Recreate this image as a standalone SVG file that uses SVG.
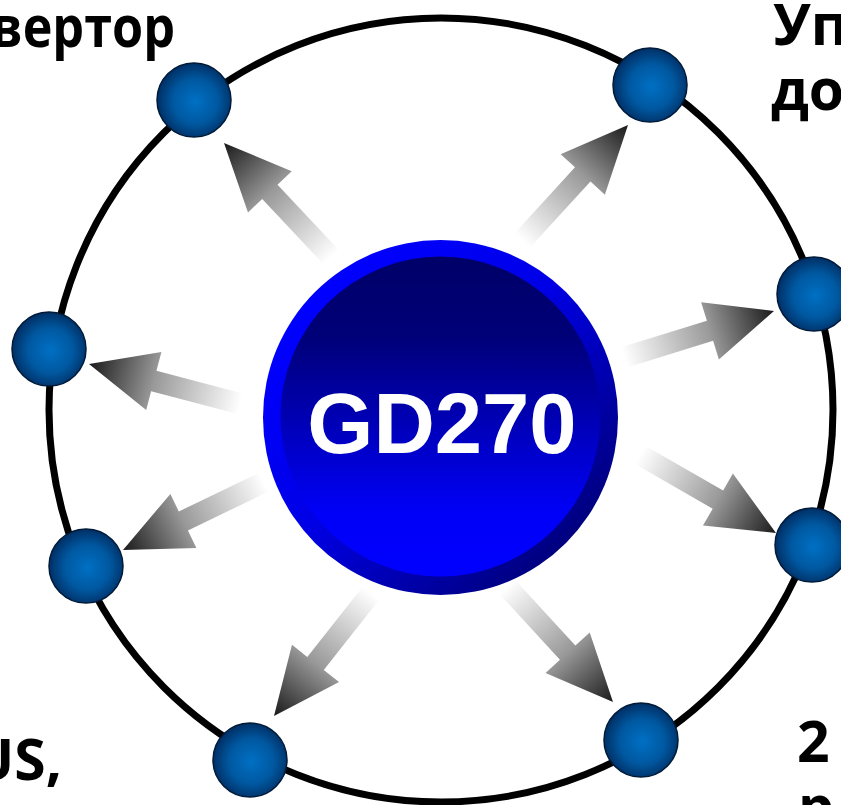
<svg xmlns="http://www.w3.org/2000/svg" width="841" height="805" viewBox="0 0 841 805">
  <style>
    .lbl { font-family: "Open Sans", "Noto Sans", "DejaVu Sans", sans-serif; font-weight: bold; font-size: 57px; fill: #000; }
    .sph { fill: url(#sphG); stroke: #001a38; stroke-width: 1.5; }
    .arr { fill: url(#arrG); }
    .ring { fill: none; stroke: #000; stroke-width: 7; }
  </style>
  <defs>
    <radialGradient id="sphG" cx="0.52" cy="0.52" r="0.55">
      <stop offset="0" stop-color="#0070c4"/>
      <stop offset="0.55" stop-color="#0058a0"/>
      <stop offset="1" stop-color="#002a5e"/>
    </radialGradient>
    <linearGradient id="arrG" x1="0" y1="0" x2="1" y2="0">
      <stop offset="0" stop-color="#ffffff"/>
      <stop offset="0.12" stop-color="#ffffff"/>
      <stop offset="0.62" stop-color="#999999"/>
      <stop offset="1" stop-color="#1a1a1a"/>
    </linearGradient>
    <linearGradient id="outerG" x1="0.15" y1="0.15" x2="0.85" y2="0.85">
      <stop offset="0" stop-color="#0000ff"/>
      <stop offset="0.45" stop-color="#0000e6"/>
      <stop offset="1" stop-color="#000080"/>
    </linearGradient>
    <linearGradient id="innerG" x1="0" y1="0" x2="0" y2="1">
      <stop offset="0" stop-color="#000068"/>
      <stop offset="0.25" stop-color="#000078"/>
      <stop offset="0.8" stop-color="#0000f8"/>
      <stop offset="1" stop-color="#0000ff"/>
    </linearGradient>
    <path id="arrow" d="M0,0 L-67,-30 L-67,-10.5 L-178,-10.5 L-178,10.5 L-67,10.5 L-67,30 Z"/>
  </defs>

  <rect x="0" y="0" width="841" height="805" fill="#ffffff"/>

  <g id="ring">
    <circle class="ring" cx="441" cy="410" r="392"/>
  </g>

  <g id="connectors">
    <use class="arr" href="#arrow" transform="translate(224,143) rotate(-133.2)"/>
    <use class="arr" href="#arrow" transform="translate(628,125) rotate(-47.5)"/>
    <use class="arr" href="#arrow" transform="translate(774,311) rotate(-17.2)"/>
    <use class="arr" href="#arrow" transform="translate(776,533) rotate(29.9)"/>
    <use class="arr" href="#arrow" transform="translate(613,702) rotate(47.4)"/>
    <use class="arr" href="#arrow" transform="translate(274,716) rotate(128.3)"/>
    <use class="arr" href="#arrow" transform="translate(123,550) rotate(154.3)"/>
    <use class="arr" href="#arrow" transform="translate(89,364) rotate(-165.3)"/>
  </g>

  <g id="center">
    <circle cx="440.5" cy="417.5" r="177.5" fill="url(#outerG)"/>
    <circle cx="440.5" cy="416.5" r="160" fill="url(#innerG)"/>
    <text x="442" y="453" text-anchor="middle" font-family="'Liberation Sans', Arial, sans-serif" font-weight="bold" font-size="85" fill="#ffffff">GD270</text>
  </g>

  <g id="node-top-left"><circle class="sph" cx="194" cy="100" r="37"/></g>
  <g id="node-top-right"><circle class="sph" cx="650" cy="85" r="37"/></g>
  <g id="node-right-upper"><circle class="sph" cx="814" cy="294" r="37"/></g>
  <g id="node-right-lower"><circle class="sph" cx="812" cy="545" r="37"/></g>
  <g id="node-bottom-right"><circle class="sph" cx="641" cy="740" r="37"/></g>
  <g id="node-bottom-left"><circle class="sph" cx="250" cy="760" r="37"/></g>
  <g id="node-left-lower"><circle class="sph" cx="86" cy="566" r="37"/></g>
  <g id="node-left-upper"><circle class="sph" cx="49" cy="349" r="37"/></g>

  <g id="labels">
    <text class="lbl" x="-9" y="47" textLength="184" lengthAdjust="spacingAndGlyphs">вертор</text>
    <text class="lbl" x="773" y="45">Уп</text>
    <text class="lbl" x="771" y="110">до</text>
    <text class="lbl" x="62" y="780" text-anchor="end">US,</text>
    <text class="lbl" x="797" y="762">2</text>
    <text class="lbl" x="798" y="827">р</text>
  </g>
</svg>
